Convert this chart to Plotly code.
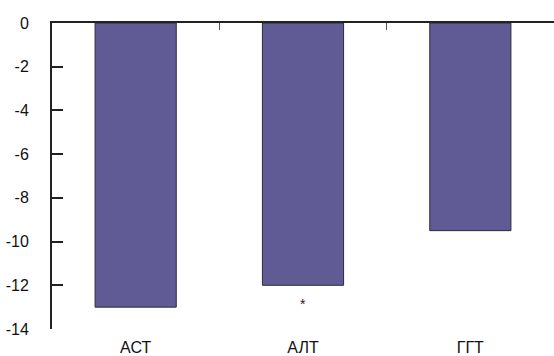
import plotly.graph_objects as go

categories = ["АСТ", "АЛТ", "ГГТ"]
values = [-13, -12, -9.5]
y_ticks = [0, -2, -4, -6, -8, -10, -12, -14]
y_tick_labels = ["0", "-2", "-4", "-6", "-8", "-10", "-12", "-14"]
marker_category = "АЛТ"
marker_y = -12.85
marker_text = "*"

xpos = list(range(len(categories)))

fig = go.Figure()
fig.add_trace(go.Bar(
    x=xpos, y=values, width=0.485,
    marker=dict(color="#605b95", line=dict(color="#2a2a3a", width=1)),
    xaxis="x", yaxis="y", showlegend=False,
))
# invisible trace for bottom category axis
fig.add_trace(go.Scatter(x=xpos, y=[None]*len(xpos), xaxis="x2", yaxis="y",
                         mode="markers", showlegend=False, hoverinfo="skip"))

fig.add_annotation(x=categories.index(marker_category), y=marker_y, text=marker_text,
                   showarrow=False, xref="x", yref="y",
                   font=dict(family="Liberation Sans, Arial", size=14, color="#222"))

font = dict(family="Liberation Sans, Arial, Helvetica", size=16, color="#111")

fig.update_layout(
    width=554, height=356,
    margin=dict(l=52, r=0, t=23, b=27),
    plot_bgcolor="white", paper_bgcolor="white",
    bargap=0.5,
    font=font,
    xaxis=dict(
        side="top", range=[-0.5, len(categories) - 0.5],
        tickvals=[i + 0.5 for i in range(len(categories) - 1)],
        showticklabels=False, ticks="inside", ticklen=7, tickwidth=1, tickcolor="#555",
        showline=True, linecolor="#222", linewidth=2, showgrid=False, zeroline=False,
    ),
    xaxis2=dict(
        overlaying="x", side="bottom", range=[-0.5, len(categories) - 0.5],
        tickvals=xpos, ticktext=categories, ticks="", showline=False,
        showgrid=False, zeroline=False, tickfont=font, ticklabelstandoff=7,
    ),
    yaxis=dict(
        range=[-14, 0], tickvals=y_ticks, ticktext=y_tick_labels,
        ticks="inside", ticklen=11, tickwidth=1.5, tickcolor="#222",
        showline=True, linecolor="#222", linewidth=2, showgrid=False, zeroline=False,
        ticklabelstandoff=18, tickfont=font,
    ),
)

fig.write_html("out.html")
